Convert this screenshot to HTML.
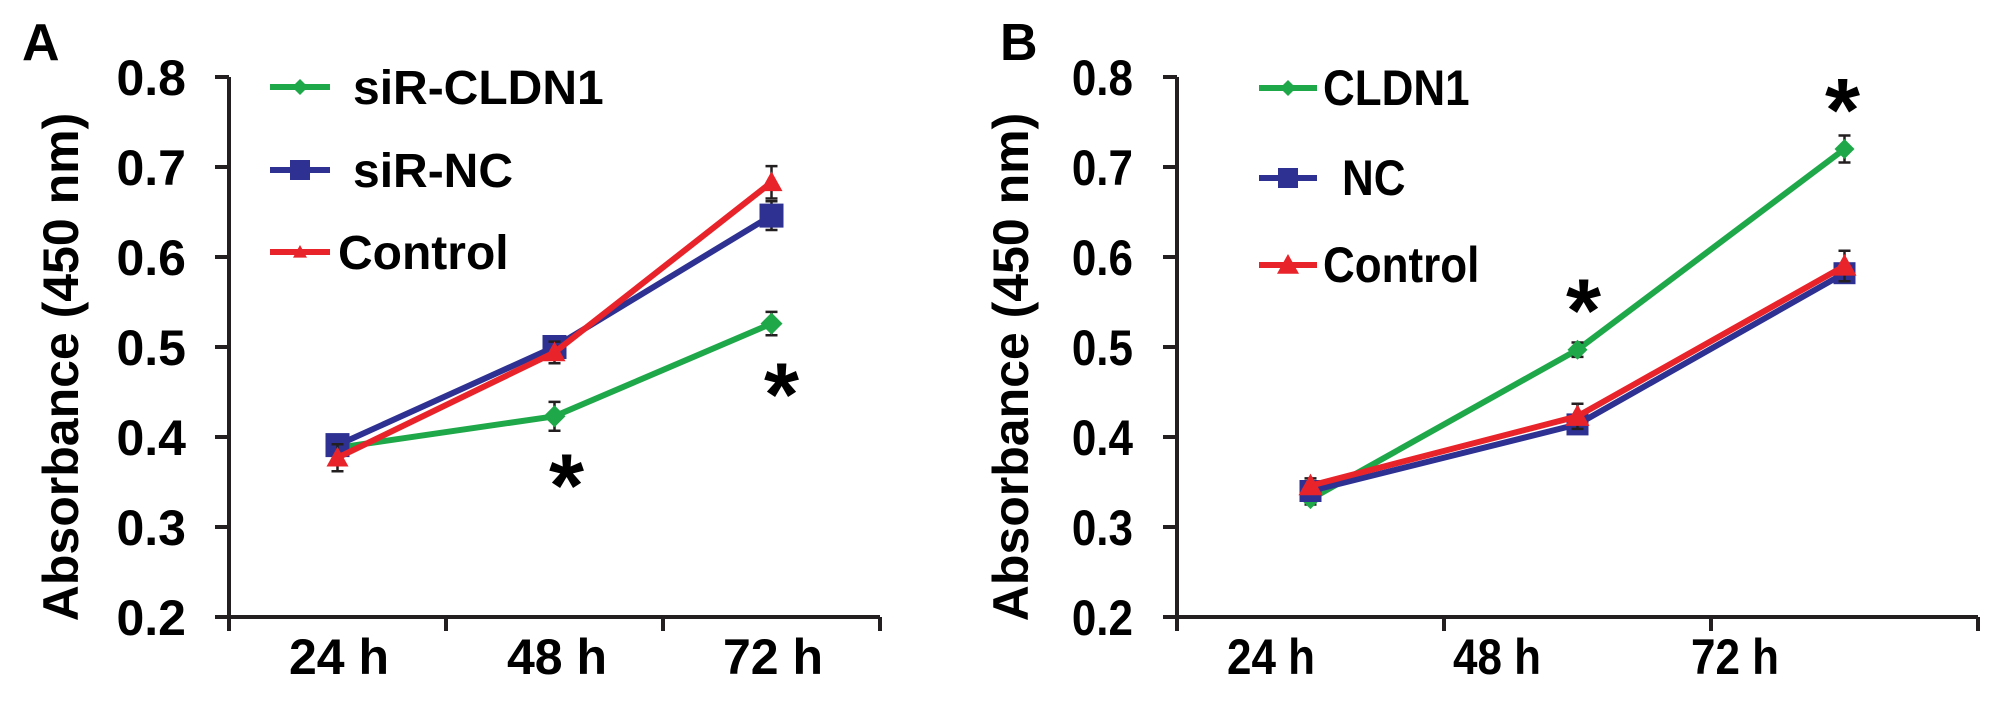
<!DOCTYPE html>
<html><head><meta charset="utf-8"><style>
html,body{margin:0;padding:0;background:#fff;}
svg{display:block;font-family:"Liberation Sans",Arial,sans-serif;font-weight:bold;}
</style></head><body>
<svg id="chart" width="2008" height="704" viewBox="0 0 2008 704" xmlns="http://www.w3.org/2000/svg"></svg>
<script>
const categories = ["24 h","48 h","72 h"];
const yTicks = [0.2,0.3,0.4,0.5,0.6,0.7,0.8];
const yTickLabels = ["0.2","0.3","0.4","0.5","0.6","0.7","0.8"];
// Panel A
const aNames = ["siR-CLDN1","siR-NC","Control"];
const aCLDN1 = [0.388,0.423,0.526];
const aNC = [0.391,0.500,0.646];
const aControl = [0.377,0.494,0.683];
const aErrCLDN1 = [0.008,0.016,0.013];
const aErrNC = [0.008,0.008,0.016];
const aErrControl = [0.015,0.012,0.018];
// Panel B
const bNames = ["CLDN1","NC","Control"];
const bCLDN1 = [0.331,0.497,0.720];
const bNC = [0.340,0.414,0.582];
const bControl = [0.346,0.423,0.590];
const bErrCLDN1 = [0.006,0.008,0.015];
const bErrNC = [0.008,0.008,0.010];
const bErrControl = [0.008,0.014,0.017];

const NS="http://www.w3.org/2000/svg";
const svg=document.getElementById('chart');
function mk(tag,attrs,parent){const e=document.createElementNS(NS,tag);for(const k in attrs)e.setAttribute(k,attrs[k]);(parent||svg).appendChild(e);return e;}
const COLORS={g:"#1fa84a",b:"#2e3192",r:"#e8242a"};

function marker(g,type,x,y,color,s){
  let m;
  if(type==="diamond") m=mk('polygon',{points:`${x},${y-s} ${x+s},${y} ${x},${y+s} ${x-s},${y}`,fill:color},g);
  else if(type==="square") m=mk('rect',{x:x-s,y:y-s,width:2*s,height:2*s,fill:color},g);
  else m=mk('polygon',{points:`${x},${y-s} ${x+s},${y+s*0.8} ${x-s},${y+s*0.8}`,fill:color},g);
  return m;
}

function panel(cfg){
  const g=mk('g',{});
  
  
  const y=v=>cfg.y0-(v-0.2)/0.6*(cfg.y0-cfg.y1);
  const xp=i=>cfg.x0+(i+0.5)*cfg.step;
  const ax=mk('line',{x1:cfg.x0,y1:y(0.8),x2:cfg.x0,y2:cfg.y0+14,stroke:"#231f20","stroke-width":4},g);
  
  const bx=mk('line',{x1:cfg.x0-14,y1:cfg.y0,x2:cfg.xEnd,y2:cfg.y0,stroke:"#231f20","stroke-width":4},g);
  
  for(let i=1;i<=3;i++){const t=mk('line',{x1:cfg.x0+i*cfg.step,y1:cfg.y0,x2:cfg.x0+i*cfg.step,y2:cfg.y0+14,stroke:"#231f20","stroke-width":4},g);
    }
  yTicks.forEach((v,i)=>{
    const t=mk('line',{x1:cfg.x0-14,y1:y(v),x2:cfg.x0,y2:y(v),stroke:"#231f20","stroke-width":4},g);
    
    const tx=mk('text',{x:cfg.tickLabelX,y:y(v)+18,"text-anchor":"end","font-size":cfg.fs,transform:cfg.sx?`translate(${cfg.tickLabelX},0) scale(${cfg.sx},1) translate(${-cfg.tickLabelX},0)`:""},g);
    tx.textContent=yTickLabels[i];
    
  });
  categories.forEach((c,i)=>{
    const cx=cfg.labelX[i];
    const tx=mk('text',{x:cx,y:cfg.y0+57,"text-anchor":"middle","font-size":cfg.fs,transform:cfg.sx?`translate(${cx},0) scale(${cfg.sx},1) translate(${-cx},0)`:""},g);
    tx.textContent=c;
    
  });
  const yt=mk('text',{x:0,y:0,"text-anchor":"middle","font-size":50,transform:`translate(${cfg.titleX},${(y(0.8)+cfg.y0)/2+20}) rotate(-90)`},g);
  yt.textContent="Absorbance (450 nm)";
  
  const pl=mk('text',{x:cfg.letterX,y:60,"font-size":52},g);
  pl.textContent=cfg.letter;
  
  cfg.series.forEach(s=>{
    const sg=mk('g',{},g);
    
    
    const pts=s.vals.map((v,i)=>`${xp(i)},${y(v)}`).join(' ');
    const ln=mk('polyline',{points:pts,fill:"none",stroke:s.color,"stroke-width":6,"stroke-linejoin":"round"},sg);
    
    s.vals.forEach((v,i)=>{
      const e=s.err[i];const X=xp(i);
      const eb=mk('path',{d:`M${X},${y(v+e)}V${y(v-e)}M${X-6},${y(v+e)}H${X+6}M${X-6},${y(v-e)}H${X+6}`,stroke:"#231f20","stroke-width":2.5,fill:"none"},sg);
      
      const m=marker(sg,s.type,X,y(v),s.color,s.size);
      
    });
  });
  cfg.series.forEach((s,i)=>{
    const lg=mk('g',{},g);
    
    const ly=cfg.legY[i];
    mk('line',{x1:cfg.legX1,y1:ly,x2:cfg.legX2,y2:ly,stroke:s.color,"stroke-width":6},lg);
    marker(lg,s.type,(cfg.legX1+cfg.legX2)/2,ly,s.color,s.legSize);
    const tx=mk('text',{x:cfg.legTextX[i],y:ly+17,"font-size":cfg.legFs,transform:cfg.sx?`translate(${cfg.legTextX[i]},0) scale(${cfg.sx},1) translate(${-cfg.legTextX[i]},0)`:""},lg);
    tx.textContent=s.name;
  });
  cfg.stars.forEach(st=>{
    const tx=mk('text',{x:xp(st.i)+st.dx,y:y(st.v)+st.dy,"text-anchor":"middle","font-size":90},g);
    tx.textContent="*";
    
  });
}

panel({id:"a",letter:"A",letterX:22,x0:229,step:217,xEnd:880,y0:617,y1:77,tickLabelX:186,fs:50,
  labelX:[339,557,773],titleX:78,legX1:270,legX2:330,legY:[87,170,252],legTextX:[353,353,338],legFs:48,
  series:[
    {name:aNames[0],vals:aCLDN1,err:aErrCLDN1,color:COLORS.g,type:"diamond",size:11,legSize:8},
    {name:aNames[1],vals:aNC,err:aErrNC,color:COLORS.b,type:"square",size:12,legSize:10},
    {name:aNames[2],vals:aControl,err:aErrControl,color:COLORS.r,type:"tri",size:11,legSize:7}],
  stars:[{i:1,v:aCLDN1[1],dx:12,dy:100},{i:2,v:aCLDN1[2],dx:10,dy:102}]});

panel({id:"b",letter:"B",letterX:1000,x0:1177,step:267,xEnd:1978,y0:617,y1:77,tickLabelX:1133,fs:50,sx:0.88,
  labelX:[1271,1497,1735],titleX:1028,legX1:1259,legX2:1317,legY:[88,178,265],legTextX:[1323,1342,1323],legFs:50,
  series:[
    {name:bNames[0],vals:bCLDN1,err:bErrCLDN1,color:COLORS.g,type:"diamond",size:10,legSize:8},
    {name:bNames[1],vals:bNC,err:bErrNC,color:COLORS.b,type:"square",size:11,legSize:10},
    {name:bNames[2],vals:bControl,err:bErrControl,color:COLORS.r,type:"tri",size:12,legSize:11}],
  stars:[{i:1,v:bCLDN1[1],dx:6,dy:-8},{i:2,v:bCLDN1[2],dx:-2,dy:-8}]});
</script>
</body></html>
